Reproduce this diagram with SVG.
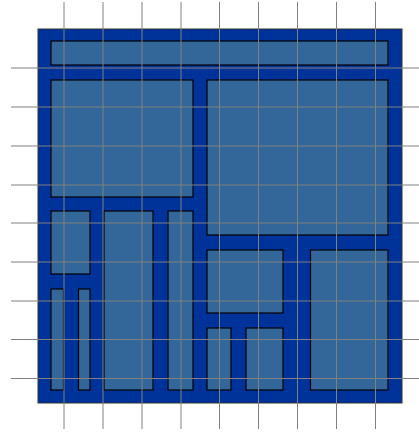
<svg xmlns="http://www.w3.org/2000/svg" width="419" height="433" viewBox="0 0 419 433">
<style>
.outer{fill:#003399;stroke:#333333;stroke-width:1}
.blk{fill:#336699;stroke:#000000;stroke-width:1.2}
.grid line{stroke:#808080;stroke-width:1}
</style>
<rect width="419" height="433" fill="#ffffff"/>
<g id="board"><rect class="outer" x="38" y="29" width="364" height="374"/></g>
<g id="blocks">
<rect id="b1" class="blk" x="51" y="41" width="337" height="24"/>
<rect id="b2" class="blk" x="51" y="80" width="142" height="117"/>
<rect id="b3" class="blk" x="207" y="80" width="181" height="155"/>
<rect id="b4" class="blk" x="51" y="211" width="39" height="63"/>
<rect id="b5" class="blk" x="104" y="211" width="49" height="179"/>
<rect id="b6" class="blk" x="168" y="211" width="25" height="179"/>
<rect id="b7" class="blk" x="51" y="289" width="12.5" height="101"/>
<rect id="b8" class="blk" x="78.5" y="289" width="11.5" height="101"/>
<rect id="b9" class="blk" x="207" y="250" width="76" height="63"/>
<rect id="b10" class="blk" x="207" y="328" width="24" height="62"/>
<rect id="b11" class="blk" x="246" y="328" width="37" height="62"/>
<rect id="b12" class="blk" x="310.5" y="250" width="77.5" height="140"/>
</g>
<g id="grid" class="grid">
<line x1="64" y1="2" x2="64" y2="429"/>
<line x1="103" y1="2" x2="103" y2="429"/>
<line x1="142" y1="2" x2="142" y2="429"/>
<line x1="181" y1="2" x2="181" y2="429"/>
<line x1="219.5" y1="2" x2="219.5" y2="429"/>
<line x1="258.5" y1="2" x2="258.5" y2="429"/>
<line x1="297.5" y1="2" x2="297.5" y2="429"/>
<line x1="336.5" y1="2" x2="336.5" y2="429"/>
<line x1="375.5" y1="2" x2="375.5" y2="429"/>
<line x1="11" y1="68" x2="419" y2="68"/>
<line x1="11" y1="107" x2="419" y2="107"/>
<line x1="11" y1="146" x2="419" y2="146"/>
<line x1="11" y1="185" x2="419" y2="185"/>
<line x1="11" y1="223" x2="419" y2="223"/>
<line x1="11" y1="262" x2="419" y2="262"/>
<line x1="11" y1="301" x2="419" y2="301"/>
<line x1="11" y1="339.5" x2="419" y2="339.5"/>
<line x1="11" y1="378.5" x2="419" y2="378.5"/>
</g>
</svg>
